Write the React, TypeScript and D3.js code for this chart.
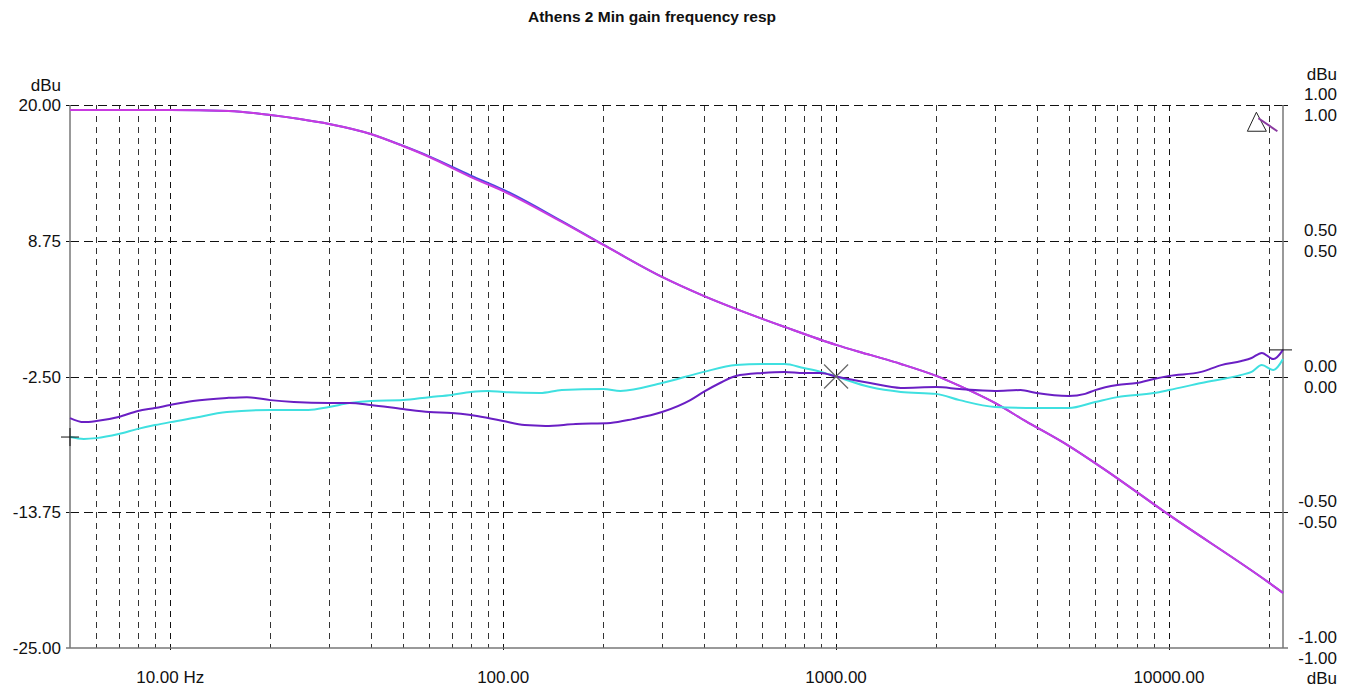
import React from "react";
import * as d3 from "d3";

const W = 1357;
const H = 691;

const title = "Athens 2 Min gain frequency resp";

// Left axis (dBu) ticks
const leftTicks = [20, 8.75, -2.5, -13.75, -25];
// Right axis (dBu, relative) ticks
const rightTicks = [1, 0.5, 0, -0.5, -1];
// X axis labels
const xLabels = [
  { f: 10, text: "10.00 Hz" },
  { f: 100, text: "100.00" },
  { f: 1000, text: "1000.00" },
  { f: 10000, text: "10000.00" },
];
const xGrid = [
  6, 7, 8, 9, 10, 20, 30, 40, 50, 60, 70, 80, 90, 100, 200, 300, 400, 500, 600, 700, 800, 900, 1000,
  2000, 3000, 4000, 5000, 6000, 7000, 8000, 9000, 10000, 20000,
];
const decades = [10, 100, 1000, 10000];

// Magenta trace (left axis, dBu)
const magentaF = [5, 10, 15, 20, 24.5, 30, 40, 50, 60, 80, 100, 150, 200, 300, 400, 500, 700, 1000, 1265, 1565, 2000, 2350, 3000, 3700, 5000, 6300, 10000, 20000, 22000];
const magentaV = [19.59, 19.59, 19.5, 19.17, 18.84, 18.43, 17.6, 16.6, 15.69, 14.03, 12.87, 10.31, 8.4, 5.75, 4.18, 3.1, 1.61, 0.12, -0.71, -1.46, -2.45, -3.28, -4.69, -6.18, -8.25, -10.07, -13.97, -19.6, -20.43];
// Blue trace (left axis, dBu), nearly identical to magenta
const blueV = [19.59, 19.59, 19.5, 19.17, 18.84, 18.43, 17.6, 16.62, 15.74, 14.15, 12.99, 10.38, 8.42, 5.75, 4.18, 3.1, 1.61, 0.12, -0.71, -1.46, -2.45, -3.28, -4.69, -6.18, -8.25, -10.07, -13.97, -19.6, -20.43];

// Purple trace (right axis A)
const purpleF = [5, 5.5, 6, 7, 8, 9, 10, 11.7, 14.8, 17, 20, 23.5, 30, 34.6, 40, 50, 60, 70, 80, 90, 100, 116, 134, 165, 210, 245, 300, 365, 400, 448, 500, 600, 700, 800, 900, 1000, 1265, 1565, 2000, 2350, 3000, 3580, 4000, 5000, 5600, 6000, 7000, 8000, 9000, 10000, 12500, 14350, 16500, 17700, 19000, 20600, 22000];
const purpleV = [-0.153, -0.168, -0.164, -0.149, -0.127, -0.116, -0.105, -0.09, -0.079, -0.076, -0.087, -0.094, -0.098, -0.098, -0.105, -0.12, -0.131, -0.134, -0.142, -0.153, -0.164, -0.179, -0.182, -0.175, -0.171, -0.157, -0.131, -0.087, -0.057, -0.024, 0.002, 0.013, 0.017, 0.013, 0.013, 0.0, -0.024, -0.042, -0.039, -0.046, -0.053, -0.05, -0.061, -0.072, -0.064, -0.05, -0.031, -0.024, -0.009, 0.002, 0.017, 0.042, 0.057, 0.068, 0.087, 0.064, 0.098];

// Cyan trace (right axis B)
const cyanF = [5, 5.5, 6, 7, 8, 9, 10, 11.7, 14.8, 20, 26, 30, 34.6, 40, 50, 60, 70, 80, 90, 100, 129, 150, 200, 225, 300, 400, 500, 600, 700, 800, 900, 1000, 1265, 1565, 2000, 2350, 3000, 4000, 5000, 6000, 7000, 9000, 10000, 12500, 16500, 17700, 19000, 20600, 22000];
const cyanV = [-0.223, -0.23, -0.227, -0.212, -0.193, -0.179, -0.168, -0.153, -0.131, -0.123, -0.123, -0.112, -0.098, -0.09, -0.087, -0.076, -0.068, -0.057, -0.053, -0.057, -0.061, -0.05, -0.046, -0.053, -0.024, 0.017, 0.042, 0.046, 0.046, 0.031, 0.017, 0.0, -0.039, -0.057, -0.064, -0.087, -0.112, -0.116, -0.116, -0.094, -0.076, -0.061, -0.05, -0.024, 0.006, 0.017, 0.042, 0.024, 0.064];

const FONT = "'Liberation Sans', Arial, sans-serif";

const snap = (v: number) => Math.round(v) + 0.5;

export default function App() {
  const left = 70, right = 1283, top = 105, bottom = 648;
  const x = d3.scaleLog().domain([5, 22000]).range([left, right]);
  const yL = d3.scaleLinear().domain([-25, 20]).range([bottom, top]);
  const yR = d3.scaleLinear().domain([-1, 1]).range([bottom, top]);

  const lineL = d3
    .line<[number, number]>()
    .x((d) => x(d[0]))
    .y((d) => yL(d[1]))
    .curve(d3.curveMonotoneX);
  const lineR = d3
    .line<[number, number]>()
    .x((d) => x(d[0]))
    .y((d) => yR(d[1]))
    .curve(d3.curveMonotoneX);

  const mag = magentaF.map((f, i) => [f, magentaV[i]] as [number, number]);
  const blu = magentaF.map((f, i) => [f, blueV[i]] as [number, number]);
  const pur = purpleF.map((f, i) => [f, purpleV[i]] as [number, number]);
  const cya = cyanF.map((f, i) => [f, cyanV[i]] as [number, number]);

  const xc = x(1000), yc = yR(0);
  const px0 = x(5), py0 = yR(cyanV[0]);
  const px1 = x(22000), py1 = yR(purpleV[purpleV.length - 1]);
  const tx = x(18300), ty = yL(19.4);

  return (
    <svg
      width={W}
      height={H}
      style={{ position: "absolute", left: 0, top: 0, background: "#fff" }}
      fontFamily={FONT}
    >
      <rect x={0} y={0} width={W} height={H} fill="#fff" />
      <text x={652} y={22} textAnchor="middle" fontWeight="bold" fontSize={15.5} fill="#111">
        {title}
      </text>

      {/* vertical grid */}
      {xGrid.map((f) => {
        const isDec = decades.includes(f);
        return (
          <line
            key={"vx" + f}
            x1={snap(x(f))}
            x2={snap(x(f))}
            y1={top}
            y2={isDec ? bottom + 7 : bottom}
            stroke={isDec ? "#111" : "#333"}
            strokeWidth={1}
            strokeDasharray="6,5"
          />
        );
      })}

      {/* horizontal grid */}
      {leftTicks.slice(0, 4).map((v) => (
        <g key={"hy" + v}>
          <line x1={left} x2={right} y1={snap(yL(v))} y2={snap(yL(v))} stroke="#111" strokeWidth={1} strokeDasharray="9,5" />
          <line x1={left - 4} x2={left} y1={snap(yL(v))} y2={snap(yL(v))} stroke="#111" />
          <line x1={right} x2={right + 5} y1={snap(yL(v))} y2={snap(yL(v))} stroke="#111" />
        </g>
      ))}

      {/* axis frame */}
      <line x1={left} x2={left} y1={top} y2={bottom} stroke="#777" strokeWidth={1.5} />
      <line x1={right} x2={right} y1={top} y2={bottom} stroke="#777" strokeWidth={1.5} />
      <line x1={left - 4} x2={right + 5} y1={bottom} y2={bottom} stroke="#777" strokeWidth={1.5} />

      {/* traces */}
      <path d={lineL(blu) || ""} fill="none" stroke="#4a4ae0" strokeWidth={2} />
      <path d={lineL(mag) || ""} fill="none" stroke="#c83ae0" strokeWidth={2} />
      <path d={lineR(cya) || ""} fill="none" stroke="#3fe0e0" strokeWidth={2} />
      <path d={lineR(pur) || ""} fill="none" stroke="#6a1fc4" strokeWidth={2} />

      {/* cursor markers */}
      <g stroke="#666" strokeWidth={1.2}>
        <line x1={xc - 12} x2={xc + 12} y1={yc - 12} y2={yc + 12} />
        <line x1={xc - 12} x2={xc + 12} y1={yc + 12} y2={yc - 12} />
      </g>
      <g stroke="#111" strokeWidth={1}>
        <line x1={px0 - 9} x2={px0 + 9} y1={py0} y2={py0} />
        <line x1={px0} x2={px0} y1={py0 - 9} y2={py0 + 9} />
        <line x1={px1 - 14} x2={px1 + 9} y1={py1} y2={py1} />
      </g>
      <path
        d={`M${tx},${ty} L${tx - 9},${ty + 19} L${tx + 10},${ty + 19} Z`}
        fill="none"
        stroke="#222"
        strokeWidth={1}
      />
      <line x1={tx + 2} y1={ty + 6} x2={tx + 21} y2={ty + 19} stroke="#8a3aa0" strokeWidth={2} />

      {/* left labels */}
      <text x={61} y={91} textAnchor="end" fontSize={17} fill="#111">dBu</text>
      {leftTicks.map((v) => (
        <text key={"lt" + v} x={61} y={yL(v) + 6} textAnchor="end" fontSize={17} fill="#111">
          {v.toFixed(2)}
        </text>
      ))}

      {/* right labels */}
      <text x={1337} y={80} textAnchor="end" fontSize={17} fill="#111">dBu</text>
      {rightTicks.map((v) => (
        <g key={"rt" + v}>
          <text x={1337} y={yR(v) - 5} textAnchor="end" fontSize={17} fill="#111">
            {v.toFixed(2)}
          </text>
          <text x={1337} y={yR(v) + 16} textAnchor="end" fontSize={17} fill="#111">
            {v.toFixed(2)}
          </text>
        </g>
      ))}
      <text x={1337} y={684} textAnchor="end" fontSize={17} fill="#111">dBu</text>

      {/* x labels */}
      {xLabels.map((l) => (
        <text key={"xl" + l.f} x={x(l.f)} y={683} textAnchor="middle" fontSize={17} fill="#111">
          {l.text}
        </text>
      ))}
    </svg>
  );
}
